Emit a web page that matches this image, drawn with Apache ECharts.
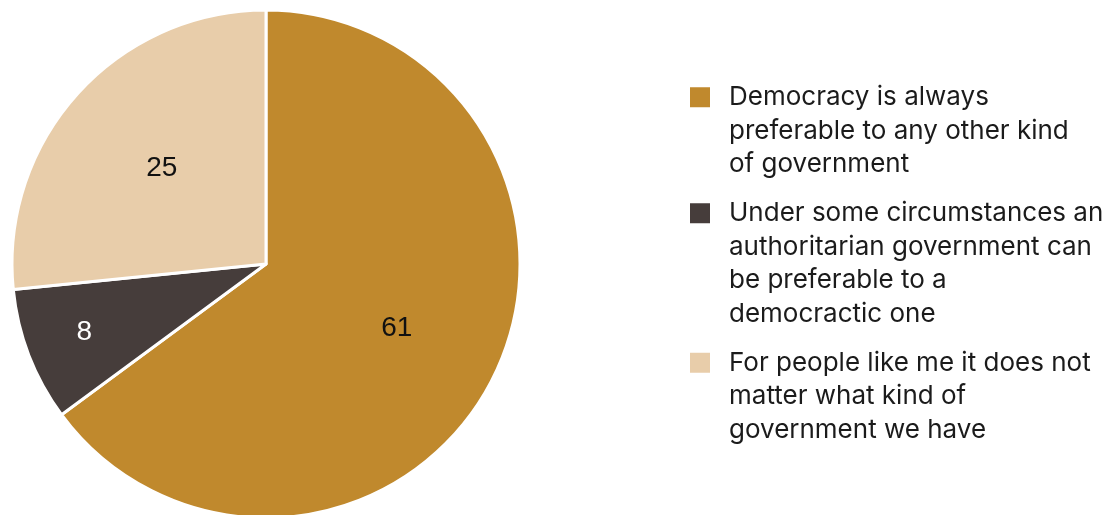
<!DOCTYPE html>
<html>
<head>
<meta charset="utf-8">
<script src="https://cdn.jsdelivr.net/npm/echarts@6/dist/echarts.min.js"></script>
<style>
html,body{margin:0;padding:0;background:#fff;}
#chart{width:1117px;height:515px;}
</style>
</head>
<body>
<div id="chart"></div>
<script>
const categories = [
  "Democracy is always preferable to any other kind of government",
  "Under some circumstances an authoritarian government can be preferable to a democractic one",
  "For people like me it does not matter what kind of government we have"
];
const legendLines = [
  ["Democracy is always", "preferable to any other kind", "of government"],
  ["Under some circumstances an", "authoritarian government can", "be preferable to a", "democractic one"],
  ["For people like me it does not", "matter what kind of", "government we have"]
];
const values = [61, 8, 25];
const colors = ["#C0892D", "#463D3B", "#E8CDAA"];
const labelColors = ["#111111", "#ffffff", "#111111"];
const labelRadiusFactor = [1.127, 1.498, 1.08];

const chart = echarts.init(document.getElementById('chart'), null, {renderer: 'canvas'});
const cx = 266, cy = 264;
const LH = 33.5;

const rich = {
  g: {width: 19, height: 20, lineHeight: LH},
  ind: {width: 39, height: 20, lineHeight: LH},
  t: {fontSize: 26, fontFamily: 'Inter', color: '#1b1b1b', lineHeight: LH}
};
colors.forEach((c, i) => { rich['s' + i] = {width: 20, height: 20, lineHeight: LH, backgroundColor: c}; });

option = {
  backgroundColor: '#ffffff',
  animation: false,
  color: colors,
  legend: {
    orient: 'vertical',
    left: 680,
    top: 75.5,
    itemGap: 15.5,
    icon: 'none',
    itemWidth: 0,
    itemHeight: 20,
    selectedMode: false,
    data: categories,
    formatter: function (name) {
      const i = categories.indexOf(name);
      return legendLines[i].map((l, k) => (k === 0 ? '{s' + i + '|}{g|}' : '{ind|}') + '{t|' + l + '}').join('\n');
    },
    textStyle: {fontSize: 26, fontFamily: 'Inter', color: '#1b1b1b', lineHeight: LH, rich: rich}
  },
  series: [{
    type: 'pie',
    center: [cx, cy],
    radius: [0, 254],
    startAngle: 90,
    clockwise: true,
    avoidLabelOverlap: false,
    itemStyle: {borderColor: '#ffffff', borderWidth: 3},
    label: {
      show: true,
      position: 'inside',
      formatter: '{c}',
      fontSize: 28,
      fontFamily: 'Liberation Sans',
      color: '#111'
    },
    labelLine: {show: false},
    emphasis: {disabled: true},
    data: categories.map((n, i) => ({
      name: n, value: values[i],
      label: {color: labelColors[i]}
    })),
    labelLayout: function (params) {
      const r = params.labelRect;
      const lx = r.x + r.width / 2, ly = r.y + r.height / 2;
      const f = labelRadiusFactor[params.dataIndex];
      return {x: cx + (lx - cx) * f, y: cy + (ly - cy) * f - 2, align: 'center', verticalAlign: 'middle'};
    }
  }]
};
chart.setOption(option);
</script>
</body>
</html>
